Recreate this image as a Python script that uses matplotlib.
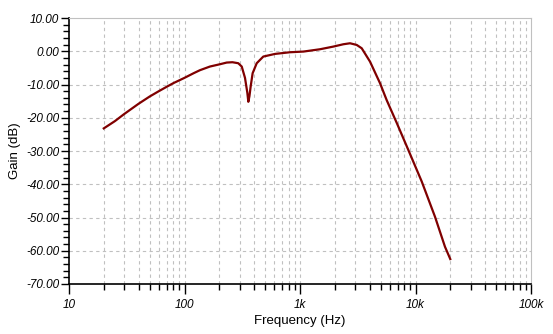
import numpy as np
from matplotlib import pyplot as plt
from matplotlib.ticker import FixedLocator, NullFormatter

# datos
freq = [20, 25, 30, 40, 50, 60, 70, 80, 100, 120, 136, 166, 203, 232, 260,
        292, 313, 334, 350, 357, 365, 374, 389, 422, 481, 608, 819, 1069,
        1490, 1942, 2370, 2710, 3097, 3422, 4036, 4928, 5630, 6870, 8670,
        11330, 14760, 18000, 20000]
gain = [-23.2, -21.0, -18.9, -15.8, -13.6, -12.0, -10.7, -9.6, -8.0, -6.6,
        -5.7, -4.6, -3.9, -3.4, -3.3, -3.6, -4.6, -8.0, -12.5, -15.2, -13.5,
        -10.6, -6.6, -3.6, -1.6, -0.8, -0.3, -0.1, 0.6, 1.4, 2.1, 2.4, 1.9,
        0.9, -3.1, -9.6, -14.7, -21.5, -29.7, -39.2, -49.8, -58.8, -62.5]
xticks = [10, 100, 1000, 10000, 100000]
xlabels = ["10", "100", "1k", "10k", "100k"]
yticks = [10, 0, -10, -20, -30, -40, -50, -60, -70]

fig = plt.figure(figsize=(5.53, 3.34), dpi=100)
ax = fig.add_axes([69/553, 1-284/334, 462/553, 266/334])
ax.semilogx(freq, gain, color='#800000', lw=1.6)
ax.set_xlim(10, 100000)
ax.set_ylim(-70, 10)

minors = [m*10**d for d in range(1, 5) for m in range(2, 10)]
ax.xaxis.set_major_locator(FixedLocator(xticks))
ax.xaxis.set_minor_locator(FixedLocator(minors))
ax.xaxis.set_minor_formatter(NullFormatter())
ax.set_xticklabels(xlabels, fontstyle='italic', fontsize=8.5, family='Liberation Sans')
ax.set_yticks(yticks)
ax.set_yticks(np.arange(-70, 10, 2), minor=True)
ax.set_yticklabels(["%.2f" % v for v in yticks], fontstyle='italic', fontsize=8.5,
                   family='Liberation Sans')

# rejilla punteada
for x in minors + xticks[1:-1]:
    ax.axvline(x, color='#c0c0c0', lw=0.8, ls=(0, (3, 3)), zorder=0)
for y in yticks[1:-1]:
    ax.axhline(y, color='#c0c0c0', lw=0.8, ls=(0, (3, 3)), zorder=0)

ax.tick_params(axis='x', which='major', direction='out', length=7, width=1, pad=4)
ax.tick_params(axis='x', which='minor', direction='out', length=4, width=1)
ax.tick_params(axis='y', which='major', direction='out', length=6, width=1, pad=1)
ax.tick_params(axis='y', which='minor', direction='out', length=4, width=1)

ax.spines['top'].set_color('#c0c0c0')
ax.spines['right'].set_color('#c0c0c0')
ax.spines['left'].set_linewidth(1.2)
ax.spines['bottom'].set_linewidth(1.2)

ax.set_xlabel("Frequency (Hz)", fontsize=9.5, family='Liberation Sans', labelpad=3)
ax.set_ylabel("Gain (dB)", fontsize=9.5, family='Liberation Sans', labelpad=4)

fig.savefig("out.png", dpi=100)
